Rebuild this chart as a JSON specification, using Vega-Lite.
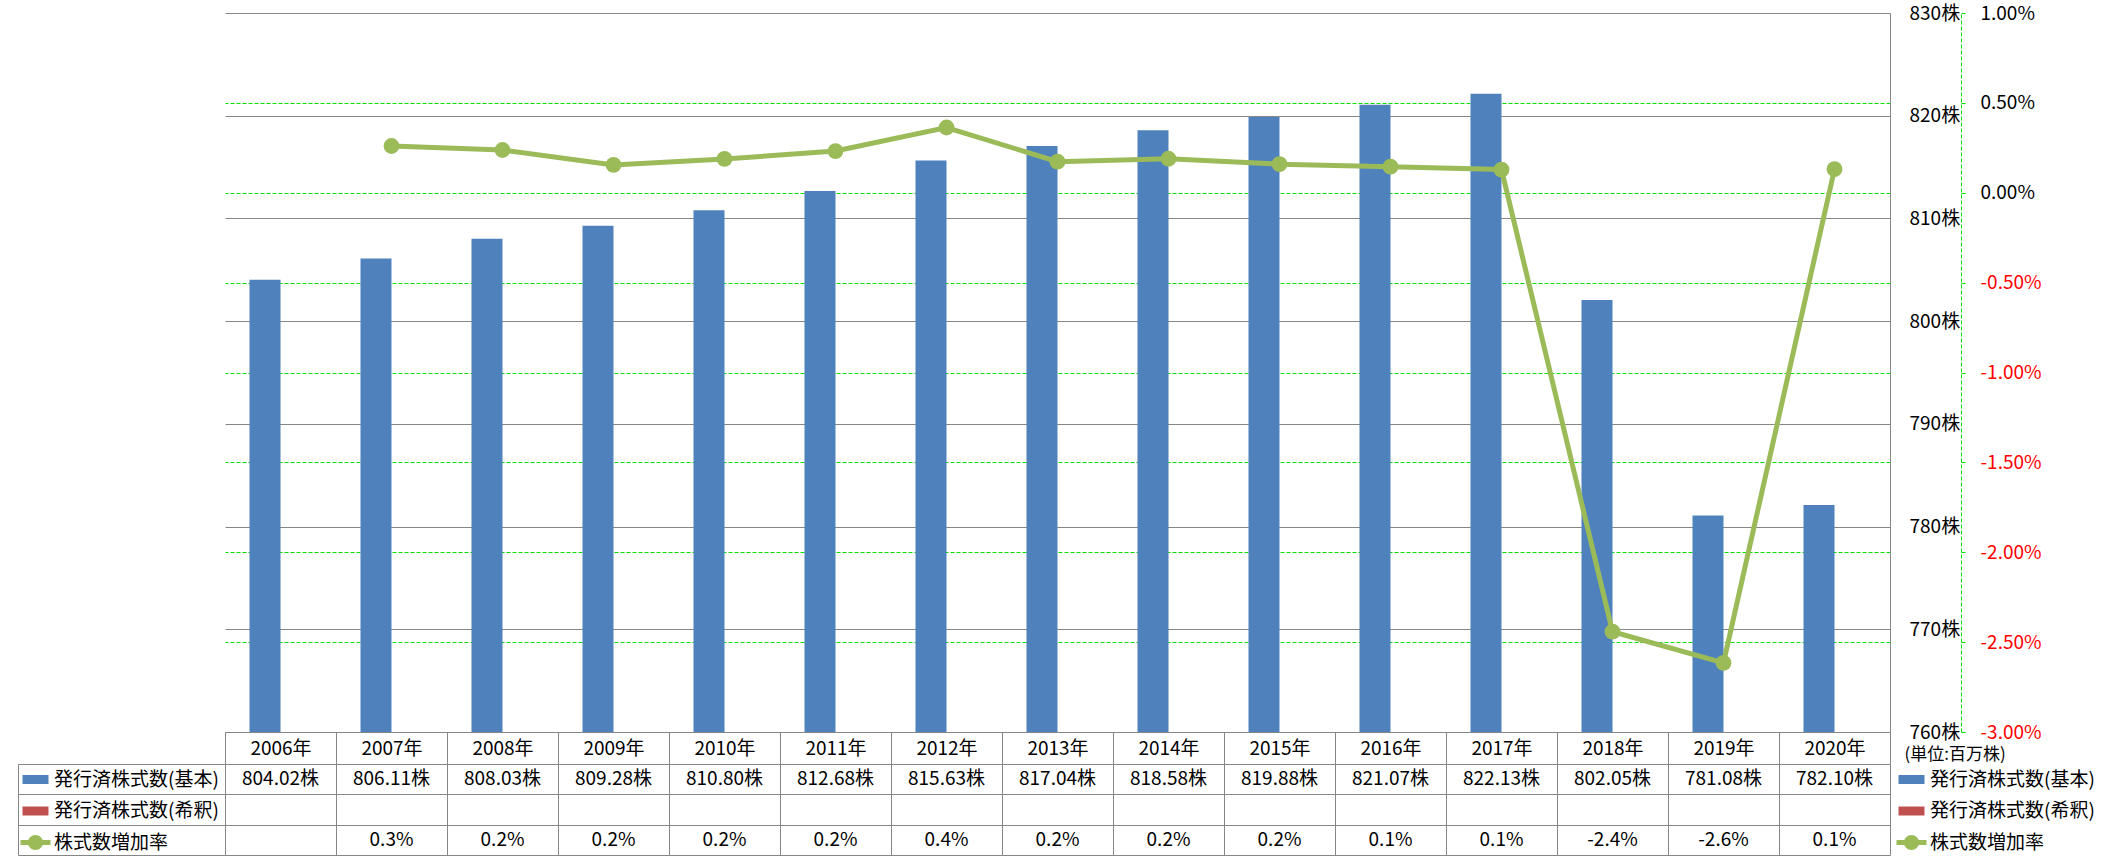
{
  "$schema": "https://vega.github.io/schema/vega-lite/v6.json",
  "background": "white",
  "padding": {"left": 17, "top": 4, "right": 0, "bottom": 0},
  "datasets": {
    "rows": [
      {"year": "2006年", "basic": 804.02, "rate": null},
      {"year": "2007年", "basic": 806.11, "rate": 0.0026},
      {"year": "2008年", "basic": 808.03, "rate": 0.00238},
      {"year": "2009年", "basic": 809.28, "rate": 0.00155},
      {"year": "2010年", "basic": 810.80, "rate": 0.00188},
      {"year": "2011年", "basic": 812.68, "rate": 0.00232},
      {"year": "2012年", "basic": 815.63, "rate": 0.00363},
      {"year": "2013年", "basic": 817.04, "rate": 0.00173},
      {"year": "2014年", "basic": 818.58, "rate": 0.00189},
      {"year": "2015年", "basic": 819.88, "rate": 0.00159},
      {"year": "2016年", "basic": 821.07, "rate": 0.00145},
      {"year": "2017年", "basic": 822.13, "rate": 0.00129},
      {"year": "2018年", "basic": 802.05, "rate": -0.02442},
      {"year": "2019年", "basic": 781.08, "rate": -0.02615},
      {"year": "2020年", "basic": 782.10, "rate": 0.00131}
    ]
  },
  "config": {
    "view": {"stroke": null},
    "font": "Noto Sans CJK JP",
    "axis": {"labelFont": "Noto Sans CJK JP", "labelFontSize": 19, "labelColor": "#000000", "titleFont": "Noto Sans CJK JP"},
    "legend": {"labelFont": "Noto Sans CJK JP", "labelFontSize": 19, "labelColor": "#000000", "labelLimit": 400},
    "locale": {"number": {"decimal": ".", "thousands": ",", "grouping": [3], "currency": ["", ""], "minus": "-"}}
  },
  "bounds": "flush",
  "spacing": 32,
  "resolve": {
    "scale": {"fill": "independent", "shape": "independent", "x": "independent", "y": "independent"},
    "legend": {"fill": "independent", "shape": "independent"}
  },
  "vconcat": [
    {
      "width": 1665,
      "height": 719,
      "data": {"name": "rows"},
      "layer": [
        {
          "mark": {"type": "bar", "color": "#4F81BD"},
          "encoding": {
            "x": {
              "field": "year", "type": "nominal", "sort": null,
              "scale": {"paddingInner": 0, "paddingOuter": 0},
              "axis": {
                "orient": "bottom", "title": null, "labelAngle": 0,
                "tickBand": "extent", "tickSize": 32, "tickColor": "#868686", "tickWidth": 1,
                "domainColor": "#868686", "labelPadding": -16, "labelBaseline": "middle",
                "labelOverlap": false, "labelFlush": false, "grid": false
              }
            },
            "xOffset": {
              "datum": "発行済株式数(基本)", "type": "nominal",
              "scale": {"domain": ["発行済株式数(基本)", "発行済株式数(希釈)"], "paddingInner": 0, "paddingOuter": 0.79}
            },
            "y": {
              "field": "basic", "type": "quantitative",
              "scale": {"domain": [760, 830], "zero": false, "nice": false},
              "axis": {
                "orient": "right", "values": [760, 770, 780, 790, 800, 810, 820, 830],
                "labelExpr": "datum.value + '株'",
                "grid": true, "gridColor": "#868686", "ticks": false,
                "domain": true, "domainColor": "#868686",
                "labelPadding": 19, "labelAlign": "left", "labelBaseline": "middle",
                "title": "(単位:百万株)", "titleAngle": 0, "titleX": 14, "titleY": 741,
                "titleAlign": "left", "titleBaseline": "middle", "titleFontSize": 17,
                "titleFontWeight": "normal", "titleColor": "#000000"
              }
            },
            "y2": {"datum": 760}
          }
        },
        {
          "encoding": {
            "x": {"field": "year", "type": "nominal", "sort": null},
            "y": {
              "field": "rate", "type": "quantitative",
              "scale": {"domain": [-0.03, 0.01], "zero": false, "nice": false},
              "axis": {
                "orient": "right", "offset": 71,
                "values": [-0.03, -0.025, -0.02, -0.015, -0.01, -0.005, 0, 0.005, 0.01],
                "format": ".2%",
                "grid": true, "gridColor": "#00E000", "gridDash": [4, 2],
                "gridOpacity": {"condition": {"test": "datum.value >= 0.0099 || datum.value <= -0.0299", "value": 0}, "value": 1},
                "domain": true, "domainColor": "#00E000", "domainDash": [4, 2],
                "ticks": true, "tickColor": "#00E000", "tickSize": 4,
                "labelPadding": 15, "labelAlign": "left", "labelBaseline": "middle",
                "labelColor": {"condition": {"test": "datum.value < 0", "value": "#FF0000"}, "value": "#000000"},
                "title": null
              }
            }
          },
          "layer": [
            {"mark": {"type": "line", "color": "#9BBB59", "strokeWidth": 5}},
            {"mark": {"type": "circle", "color": "#9BBB59", "size": 250, "opacity": 1}}
          ]
        },
        {
          "data": {"values": []},
          "mark": {"type": "point", "filled": true, "size": 100, "opacity": 1, "strokeWidth": 0},
          "encoding": {
            "fill": {
              "datum": "発行済株式数(基本)", "type": "nominal",
              "scale": {
                "domain": ["発行済株式数(基本)", "発行済株式数(希釈)", "株式数増加率"],
                "range": ["#4F81BD", "#C0504D", "#9BBB59"]
              },
              "legend": {
                "orient": "none", "legendX": 1677, "legendY": 757, "title": null, "padding": 0,
                "symbolSize": 100, "symbolStrokeWidth": 0, "symbolOpacity": 1,
                "rowPadding": 11.5, "labelOffset": 9
              }
            },
            "shape": {
              "datum": "発行済株式数(基本)", "type": "nominal",
              "scale": {
                "domain": ["発行済株式数(基本)", "発行済株式数(希釈)", "株式数増加率"],
                "range": [
                  "M-2.6,-0.9H2.6V0.9H-2.6Z",
                  "M-2.6,-0.9H2.6V0.9H-2.6Z",
                  "M-3,-0.5H3V0.5H-3Z M1.5,0A1.5,1.5 0 1,1 -1.5,0A1.5,1.5 0 1,1 1.5,0Z"
                ]
              },
              "legend": {
                "orient": "none", "legendX": 1677, "legendY": 757, "title": null, "padding": 0,
                "symbolSize": 100, "symbolStrokeWidth": 0, "symbolOpacity": 1,
                "rowPadding": 11.5, "labelOffset": 9
              }
            }
          }
        }
      ],
      "resolve": {"scale": {"y": "independent"}, "axis": {"y": "independent"}}
    },
    {
      "width": 1665,
      "height": 91,
      "data": {"name": "rows"},
      "transform": [{"calculate": "format(datum.basic, '.2f') + '株'", "as": "basicLabel"}],
      "encoding": {
        "x": {
          "field": "year", "type": "nominal", "sort": null,
          "scale": {"paddingInner": 0, "paddingOuter": 0},
          "axis": {
            "orient": "top", "title": null, "labels": false, "ticks": false, "domain": false,
            "grid": true, "tickBand": "extent", "gridColor": "#868686"
          }
        }
      },
      "layer": [
        {
          "mark": {"type": "text", "fontSize": 19, "font": "Noto Sans CJK JP", "fill": "#000000"},
          "encoding": {
            "y": {
              "datum": "発行済株式数(基本)", "type": "nominal",
              "scale": {"domain": ["発行済株式数(基本)", "発行済株式数(希釈)", "株式数増加率"], "paddingInner": 0, "paddingOuter": 0},
              "axis": {
                "orient": "left", "title": null, "labels": false,
                "grid": true, "gridColor": "#868686", "tickBand": "extent",
                "ticks": true, "tickSize": 207, "tickColor": "#868686",
                "domain": true, "domainColor": "#868686"
              }
            },
            "text": {"field": "basicLabel", "type": "nominal"}
          }
        },
        {
          "transform": [{"filter": "datum.rate != null"}],
          "mark": {"type": "text", "fontSize": 19, "font": "Noto Sans CJK JP", "fill": "#000000"},
          "encoding": {
            "y": {
              "datum": "株式数増加率", "type": "nominal",
              "axis": {
                "orient": "left", "offset": 207, "title": null, "labels": false,
                "ticks": false, "grid": false, "domain": true, "domainColor": "#868686"
              }
            },
            "text": {"field": "rate", "type": "quantitative", "format": ".1%"}
          }
        },
        {
          "data": {"values": []},
          "mark": {"type": "point", "filled": true, "size": 100, "opacity": 1, "strokeWidth": 0},
          "encoding": {
            "fill": {
              "datum": "発行済株式数(基本)", "type": "nominal",
              "scale": {
                "domain": ["発行済株式数(基本)", "発行済株式数(希釈)", "株式数増加率"],
                "range": ["#4F81BD", "#C0504D", "#9BBB59"]
              },
              "legend": {
                "orient": "none", "legendX": -199, "legendY": 6, "title": null, "padding": 0,
                "symbolSize": 100, "symbolStrokeWidth": 0, "symbolOpacity": 1,
                "rowPadding": 11.5, "labelOffset": 9
              }
            },
            "shape": {
              "datum": "発行済株式数(基本)", "type": "nominal",
              "scale": {
                "domain": ["発行済株式数(基本)", "発行済株式数(希釈)", "株式数増加率"],
                "range": [
                  "M-2.6,-0.9H2.6V0.9H-2.6Z",
                  "M-2.6,-0.9H2.6V0.9H-2.6Z",
                  "M-3,-0.5H3V0.5H-3Z M1.5,0A1.5,1.5 0 1,1 -1.5,0A1.5,1.5 0 1,1 1.5,0Z"
                ]
              },
              "legend": {
                "orient": "none", "legendX": -199, "legendY": 6, "title": null, "padding": 0,
                "symbolSize": 100, "symbolStrokeWidth": 0, "symbolOpacity": 1,
                "rowPadding": 11.5, "labelOffset": 9
              }
            }
          }
        }
      ],
      "resolve": {"axis": {"y": "independent"}}
    }
  ]
}
